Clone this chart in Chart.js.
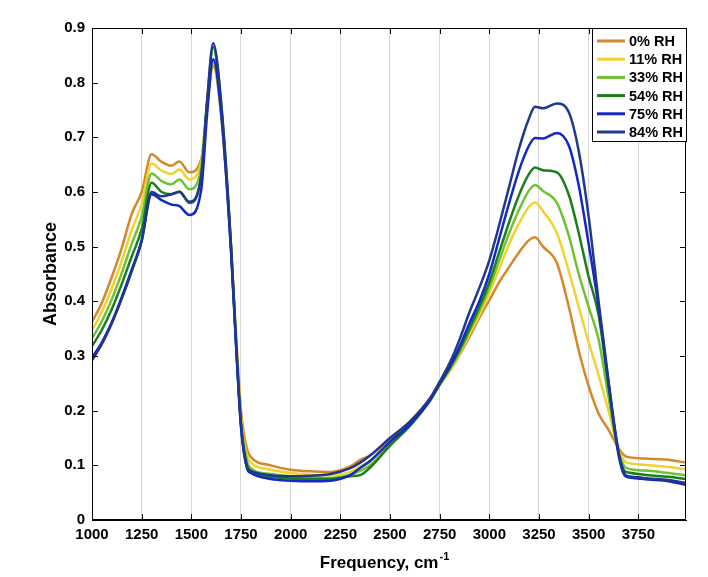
<!DOCTYPE html>
<html>
<head>
<meta charset="utf-8">
<script src="https://cdn.jsdelivr.net/npm/chart.js@4.4.0/dist/chart.umd.min.js"></script>
<style>
  body { margin: 0; background: #fff; }
  #wrap { width: 708px; height: 577px; }
</style>
</head>
<body>
<div id="wrap"><canvas id="c" width="708" height="577"></canvas></div>
<script>
// Frequencies (cm-1) shared by all spectra
const freq = [1000, 1050, 1100, 1150, 1200, 1250, 1300, 1350, 1400, 1440,
  1490, 1550, 1580, 1610, 1650, 1700, 1725, 1750, 1780, 1800,
  1900, 2000, 2100, 2200, 2300, 2350, 2400, 2500, 2600, 2700,
  2750, 2800, 2850, 2900, 2950, 3000, 3050, 3100, 3150, 3200,
  3230, 3270, 3340, 3400, 3450, 3500, 3550, 3600, 3650, 3680,
  3700, 3750, 3800, 3900, 3990];

const rh0 = [.362, .398, .445, .498, .560, .600, .669, .655, .648, .656,
  .636, .660, .760, .830, .740, .500, .340, .200, .130, .115,
  .100, .092, .089, .088, .098, .110, .118, .148, .180, .222,
  .248, .272, .302, .335, .370, .402, .435, .463, .490, .512,
  .517, .500, .470, .390, .310, .245, .195, .165, .132, .118,
  .115, .113, .112, .110, .105];
const rh11 = [.347, .381, .424, .474, .530, .578, .652, .639, .633, .641,
  .623, .655, .765, .835, .745, .495, .330, .188, .118, .105,
  .092, .086, .083, .082, .088, .098, .108, .142, .175, .220,
  .247, .272, .304, .340, .375, .415, .460, .505, .543, .573,
  .581, .565, .525, .455, .390, .325, .265, .200, .128, .108,
  .104, .102, .100, .097, .093];
const rh33 = [.332, .364, .404, .452, .505, .555, .634, .620, .614, .623,
  .605, .645, .765, .840, .750, .495, .325, .180, .108, .095,
  .084, .080, .078, .077, .083, .090, .100, .138, .172, .218,
  .247, .275, .307, .345, .383, .425, .475, .525, .568, .603,
  .613, .602, .580, .520, .450, .390, .330, .225, .125, .098,
  .094, .091, .090, .086, .082];
const rh54 = [.318, .348, .386, .432, .482, .532, .617, .600, .596, .601,
  .580, .630, .765, .865, .760, .500, .325, .175, .100, .089,
  .079, .076, .075, .075, .080, .082, .096, .136, .172, .218,
  .248, .278, .311, .350, .390, .435, .490, .545, .595, .633,
  .645, .640, .636, .595, .525, .445, .375, .245, .125, .090,
  .087, .084, .082, .079, .075];
const rh75 = [.297, .325, .362, .408, .458, .512, .596, .585, .577, .574,
  .558, .605, .745, .843, .745, .490, .320, .170, .095, .086,
  .075, .072, .071, .072, .082, .095, .108, .143, .175, .218,
  .250, .280, .317, .360, .400, .450, .515, .580, .640, .685,
  .699, .698, .708, .685, .612, .505, .390, .250, .120, .082,
  .078, .076, .074, .071, .064];
const rh84 = [.292, .322, .360, .405, .455, .510, .600, .592, .596, .600,
  .582, .630, .770, .872, .765, .500, .325, .175, .098, .090,
  .082, .080, .081, .084, .095, .105, .118, .150, .180, .222,
  .253, .287, .330, .380, .425, .475, .540, .610, .680, .735,
  .756, .753, .762, .746, .675, .555, .400, .255, .125, .085,
  .080, .078, .076, .073, .068];

const seriesNames = ['0% RH', '11% RH', '33% RH', '54% RH', '75% RH', '84% RH'];
const seriesValues = [rh0, rh11, rh33, rh54, rh75, rh84];
const seriesColors = ['#d5872b', '#f2d230', '#6fc232', '#1b7e1b', '#1428c6', '#1f388c'];

const xTicks = [1000, 1250, 1500, 1750, 2000, 2250, 2500, 2750, 3000, 3250, 3500, 3750];
const yTicks = [0, 0.1, 0.2, 0.3, 0.4, 0.5, 0.6, 0.7, 0.8, 0.9];

const FONT = '"Liberation Sans", Arial, Helvetica, sans-serif';

const datasets = seriesNames.map((name, i) => ({
  label: name,
  data: freq.map((f, j) => ({ x: f, y: seriesValues[i][j] })),
  borderColor: seriesColors[i],
  backgroundColor: seriesColors[i],
  borderWidth: 2.5,
  pointRadius: 0,
  cubicInterpolationMode: 'monotone',
  order: seriesNames.length - 1 - i
}));

// ticks inside, box, legend and axis titles, MATLAB-like
const framePlugin = {
  id: 'frame',
  afterDraw(chart) {
    const ctx = chart.ctx;
    const a = chart.chartArea;
    const xs = chart.scales.x, ys = chart.scales.y;
    ctx.save();
    ctx.strokeStyle = '#000';
    ctx.lineWidth = 1;
    ctx.beginPath();
    ctx.rect(Math.round(a.left) + 0.5, Math.round(a.top) + 0.5,
      Math.round(a.right - a.left) - 1, Math.round(a.bottom - a.top) - 1);
    ctx.stroke();
    const tl = 6;
    ctx.beginPath();
    xTicks.forEach(v => {
      const px = Math.round(xs.getPixelForValue(v)) + 0.5;
      ctx.moveTo(px, a.bottom); ctx.lineTo(px, a.bottom - tl);
      ctx.moveTo(px, a.top); ctx.lineTo(px, a.top + tl);
    });
    yTicks.forEach(v => {
      const py = Math.round(ys.getPixelForValue(v)) + 0.5;
      ctx.moveTo(a.left, py); ctx.lineTo(a.left + tl, py);
      ctx.moveTo(a.right, py); ctx.lineTo(a.right - tl, py);
    });
    ctx.stroke();

    // legend
    const bx = 592.5, by = 28.5, bw = 94, bh = 113;
    ctx.fillStyle = '#fff';
    ctx.fillRect(bx, by, bw, bh);
    ctx.strokeRect(bx, by, bw, bh);
    ctx.font = 'bold 14.5px ' + FONT;
    ctx.textBaseline = 'middle';
    ctx.textAlign = 'left';
    chart.data.datasets.forEach((ds, i) => {
      const y = 41 + i * 18.2;
      ctx.strokeStyle = ds.borderColor;
      ctx.lineWidth = 3;
      ctx.beginPath();
      ctx.moveTo(597, y); ctx.lineTo(625, y);
      ctx.stroke();
      ctx.fillStyle = '#000';
      ctx.fillText(ds.label, 629, y + 1);
    });

    // axis titles
    ctx.fillStyle = '#000';
    ctx.font = 'bold 17px ' + FONT;
    const main = 'Frequency, cm';
    const wMain = ctx.measureText(main).width;
    ctx.font = 'bold 11px ' + FONT;
    const wSup = ctx.measureText('-1').width;
    const cx = 384;
    const x0 = cx - (wMain + wSup) / 2;
    ctx.textBaseline = 'alphabetic';
    ctx.font = 'bold 17px ' + FONT;
    ctx.fillText(main, x0, 568);
    ctx.font = 'bold 11px ' + FONT;
    ctx.fillText('-1', x0 + wMain + 1, 560);

    ctx.save();
    ctx.translate(51, (a.top + a.bottom) / 2);
    ctx.rotate(-Math.PI / 2);
    ctx.font = 'bold 18px ' + FONT;
    ctx.textAlign = 'center';
    ctx.textBaseline = 'middle';
    ctx.fillText('Absorbance', 0, 0);
    ctx.restore();
    ctx.restore();
  }
};

new Chart(document.getElementById('c'), {
  type: 'line',
  data: { datasets: datasets },
  options: {
    responsive: false,
    animation: false,
    devicePixelRatio: 1,
    layout: { padding: { top: 28, right: 22, left: 0, bottom: 0 } },
    plugins: {
      legend: { display: false },
      tooltip: { enabled: false }
    },
    scales: {
      x: {
        type: 'linear',
        min: 1000,
        max: 3990,
        afterBuildTicks: s => { s.ticks = xTicks.map(v => ({ value: v })); },
        afterFit: s => { s.height = 57; },
        ticks: {
          color: '#000',
          padding: 6,
          maxRotation: 0,
          font: { family: FONT, size: 15, weight: 'bold' },
          callback: v => String(v)
        },
        grid: { color: '#d6d6d6', lineWidth: 1, drawTicks: false },
        border: { display: true, color: '#000' }
      },
      y: {
        min: 0,
        max: 0.9,
        afterBuildTicks: s => { s.ticks = yTicks.map(v => ({ value: v })); },
        afterFit: s => { s.width = 92; },
        ticks: {
          color: '#000',
          padding: 7,
          font: { family: FONT, size: 15, weight: 'bold' },
          callback: v => (v === 0 ? '0' : v.toFixed(1))
        },
        grid: { display: false, drawTicks: false },
        border: { display: true, color: '#000' }
      }
    }
  },
  plugins: [framePlugin]
});
</script>
</body>
</html>
